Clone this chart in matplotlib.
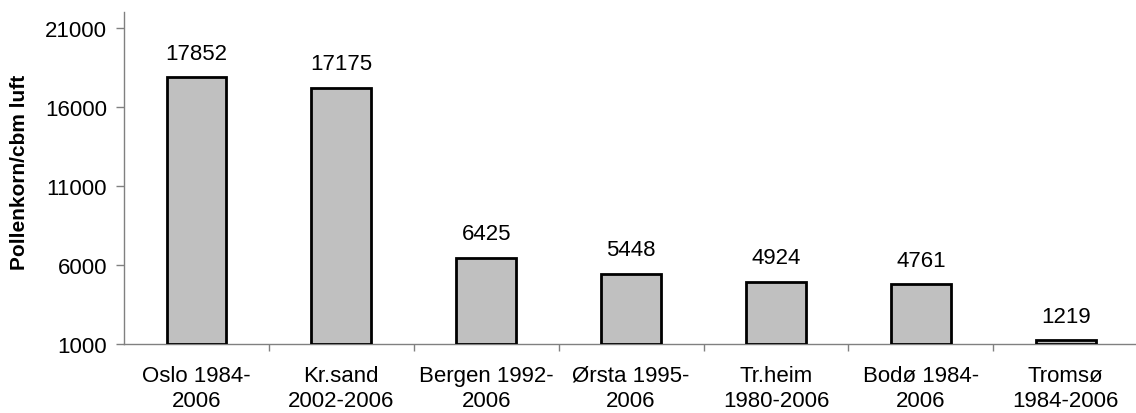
import numpy as np
import matplotlib.pyplot as plt

plt.rcParams['font.family'] = ['Liberation Sans', 'DejaVu Sans']

stations = ['Oslo 1984-\n2006', 'Kr.sand\n2002-2006', 'Bergen 1992-\n2006', 'Ørsta 1995-\n2006',
            'Tr.heim\n1980-2006', 'Bodø 1984-\n2006', 'Tromsø\n1984-2006']
pollen = [17852, 17175, 6425, 5448, 4924, 4761, 1219]
yticks = [1000, 6000, 11000, 16000, 21000]

fig = plt.figure(figsize=(11.36, 4.14), dpi=100)
ax = fig.add_axes([0.109, 0.167, 0.893, 0.802])

x = np.arange(len(stations))
base = yticks[0]
ax.bar(x, np.array(pollen) - base, bottom=base, width=0.41,
       color='#c0c0c0', edgecolor='black', linewidth=2, zorder=3)

for xi, v in zip(x, pollen):
    ax.annotate(str(v), (xi, v), xytext=(0, 10), textcoords='offset points',
                ha='center', va='bottom', fontsize=16)

ax.set_xlim(-0.5, len(stations) - 0.5)
ax.set_ylim(1000, 22000)
ax.set_yticks(yticks)
ax.tick_params(axis='y', labelsize=16, length=6, pad=6, color='#808080', width=1)
ax.set_xticks(x)
ax.set_xticklabels(stations, fontsize=16, linespacing=1.3)
ax.tick_params(axis='x', which='major', length=0, pad=15)
ax.set_xticks(np.arange(len(stations)) + 0.5, minor=True)
ax.tick_params(axis='x', which='minor', length=5, color='#808080', width=1)

for side in ['top', 'right']:
    ax.spines[side].set_visible(False)
for side in ['left', 'bottom']:
    ax.spines[side].set_color('#808080')
    ax.spines[side].set_linewidth(1)

ax.set_ylabel('Pollenkorn/cbm luft', fontsize=15, fontweight='bold')
ax.yaxis.set_label_coords(-0.093, 0.52)

fig.savefig('out.png', dpi=100)
